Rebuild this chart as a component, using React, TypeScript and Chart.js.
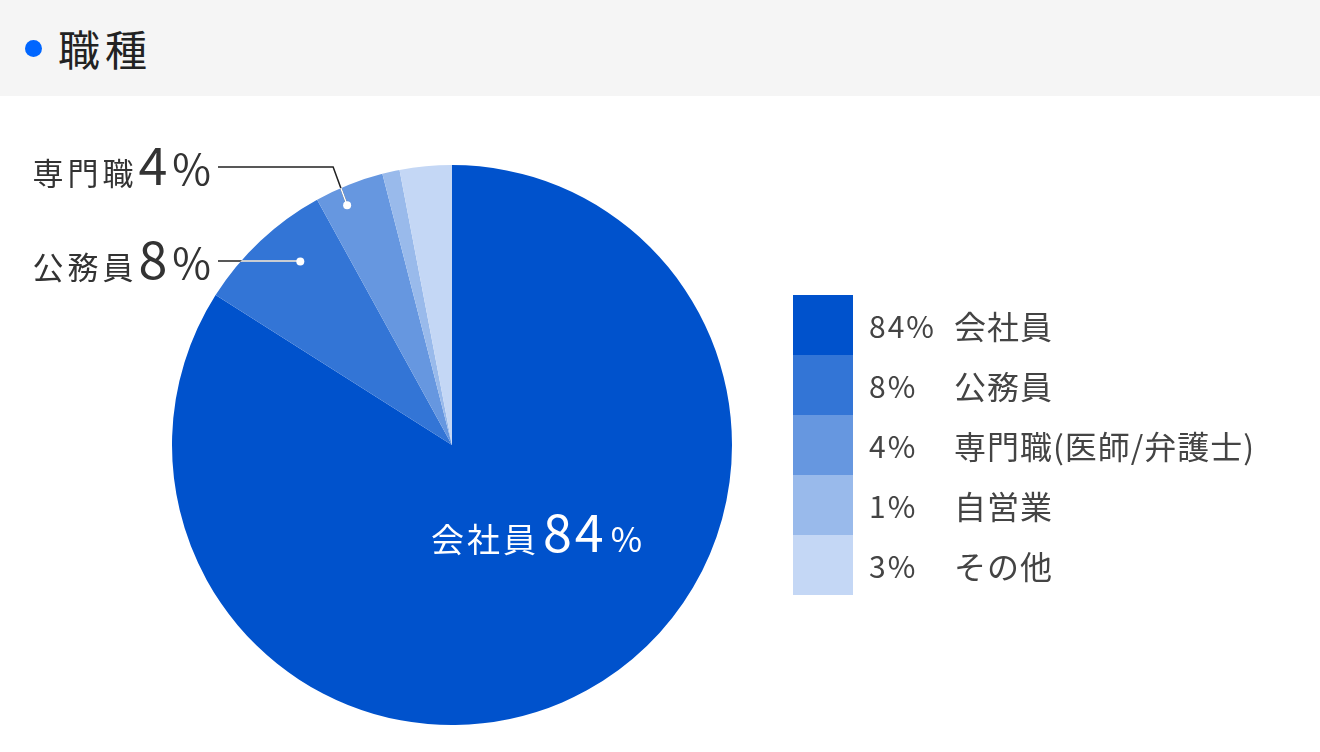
import React, { useEffect, useRef } from 'react';
import Chart from 'chart.js/auto';

const categories = ['会社員', '公務員', '専門職(医師/弁護士)', '自営業', 'その他'];
const shortNames = ['会社員', '公務員', '専門職', '自営業', 'その他'];
const shares = [84, 8, 4, 1, 3];
const sliceColors = ['#0052cc', '#3375d6', '#6697e0', '#99baeb', '#c4d7f5'];

const FONT = "'Noto Sans CJK JP', 'Noto Sans', sans-serif";

// callouts outside the pie: slice index, label line y, position inside slice
const callouts = [
  { index: 2, lineY: 71, at: 0.36, depth: 0.935, elbow: 14 },
  { index: 1, lineY: 165, at: 0.625, depth: 0.85, elbow: 0 },
];

type LabelStyle = { name: number; nameGap: number; num: number; numGap: number; pct: number; gap: number };

function drawLabel(ctx: CanvasRenderingContext2D, rightX: number, baseline: number, name: string, value: number, color: string, s: LabelStyle) {
  const c = ctx as any;
  ctx.save();
  ctx.fillStyle = color;
  ctx.textBaseline = 'alphabetic';
  ctx.textAlign = 'right';
  c.letterSpacing = '0px';
  ctx.font = `${s.pct}px ${FONT}`;
  ctx.fillText('%', rightX, baseline);
  let x = rightX - ctx.measureText('%').width - s.gap;
  ctx.font = `${s.num}px ${FONT}`;
  c.letterSpacing = `${s.numGap}px`;
  ctx.fillText(String(value), x + s.numGap, baseline);
  x -= ctx.measureText(String(value)).width - s.numGap + s.gap;
  ctx.font = `${s.name}px ${FONT}`;
  c.letterSpacing = `${s.nameGap}px`;
  ctx.fillText(name, x + s.nameGap, baseline);
  ctx.restore();
}

const calloutPlugin = {
  id: 'callouts',
  afterDatasetsDraw(chart: any) {
    const ctx: CanvasRenderingContext2D = chart.ctx;
    const arcs = chart.getDatasetMeta(0).data;
    const cx = arcs[0].x;
    const cy = arcs[0].y;
    const r = arcs[0].outerRadius;

    callouts.forEach((c) => {
      const arc = arcs[c.index];
      const a = arc.startAngle + (arc.endAngle - arc.startAngle) * c.at;
      const dx = cx + r * c.depth * Math.cos(a);
      const dy = cy + r * c.depth * Math.sin(a);
      const startX = 218;
      const path = new Path2D();
      path.moveTo(startX, c.lineY);
      path.lineTo(dx - c.elbow, c.lineY);
      path.lineTo(dx, dy);

      ctx.save();
      ctx.lineWidth = 1.5;
      ctx.strokeStyle = '#222';
      ctx.stroke(path);
      ctx.beginPath();
      ctx.arc(cx, cy, r, 0, Math.PI * 2);
      ctx.clip();
      ctx.strokeStyle = '#ffffff';
      ctx.stroke(path);
      ctx.restore();

      ctx.save();
      ctx.fillStyle = '#ffffff';
      ctx.beginPath();
      ctx.arc(dx, dy, 4, 0, Math.PI * 2);
      ctx.fill();
      ctx.restore();

      drawLabel(ctx, 211, c.lineY + 18, shortNames[c.index], shares[c.index], '#333333',
        { name: 31, nameGap: 4, num: 52, numGap: 0, pct: 42, gap: 5 });
    });

    // main slice label inside the pie
    drawLabel(ctx, cx + 190, cy + 107, shortNames[0], shares[0], '#ffffff',
      { name: 33, nameGap: 3, num: 52, numGap: 3, pct: 34, gap: 7 });
  },
};

function PieChart() {
  const chartRef = useRef<HTMLCanvasElement>(null);
  const chartInstance = useRef<Chart | null>(null);

  useEffect(() => {
    if (!chartRef.current) return;
    if (chartInstance.current) chartInstance.current.destroy();
    const ctx = chartRef.current.getContext('2d');
    if (!ctx) return;

    chartInstance.current = new Chart(ctx, {
      type: 'pie',
      data: {
        labels: categories,
        datasets: [{
          data: shares,
          backgroundColor: sliceColors,
          borderWidth: 0,
        }],
      },
      options: {
        responsive: true,
        maintainAspectRatio: false,
        animation: false,
        layout: { padding: { left: 172, right: 588, top: 69, bottom: 27 } },
        plugins: {
          legend: { display: false },
          tooltip: { enabled: false },
        },
      },
      plugins: [calloutPlugin],
    });

    return () => {
      if (chartInstance.current) {
        chartInstance.current.destroy();
        chartInstance.current = null;
      }
    };
  }, []);

  return (
    <div style={{ position: 'relative', width: 1320, height: 656 }}>
      <canvas ref={chartRef} />
    </div>
  );
}

function Legend() {
  return (
    <div style={{ position: 'absolute', left: 793, top: 199 }}>
      {categories.map((name, i) => (
        <div key={name} style={{ display: 'flex', alignItems: 'center', height: 60 }}>
          <div style={{ width: 60, height: 60, background: sliceColors[i] }} />
          <div style={{ width: 85, marginLeft: 16, fontSize: 30, letterSpacing: 2, color: '#444' }}>{shares[i]}%</div>
          <div style={{ fontSize: 32, letterSpacing: 1, color: '#444' }}>{name}</div>
        </div>
      ))}
    </div>
  );
}

export default function App() {
  useEffect(() => {
    document.body.style.margin = '0';
  }, []);

  return (
    <div style={{ width: 1320, height: 752, fontFamily: FONT, background: '#fff', overflow: 'hidden' }}>
      <div style={{ height: 96, background: '#f5f5f5', display: 'flex', alignItems: 'center' }}>
        <span style={{ width: 17, height: 17, borderRadius: '50%', background: '#0066ff', marginLeft: 25, display: 'inline-block' }} />
        <span style={{ marginLeft: 16, fontSize: 42, letterSpacing: 5, color: '#222', lineHeight: 1 }}>職種</span>
      </div>
      <div style={{ position: 'relative' }}>
        <PieChart />
        <Legend />
      </div>
    </div>
  );
}
